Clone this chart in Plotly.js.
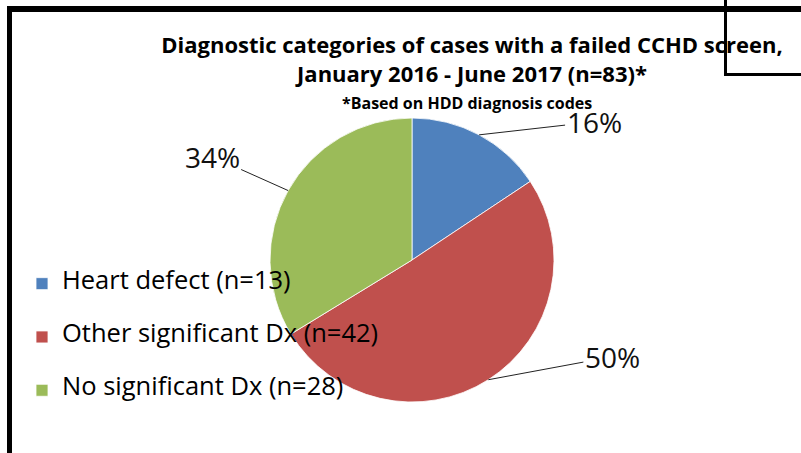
<!DOCTYPE html>
<html>
<head>
<meta charset="utf-8">
<script src="https://cdn.plot.ly/plotly-3.0.1.min.js"></script>
<style>html,body{margin:0;padding:0;background:#fff;}#chart{width:801px;height:453px;}</style>
</head>
<body>
<div id="chart"></div>
<script>
// ---- data ----
const categories = ['Heart defect (n=13)', 'Other significant Dx (n=42)', 'No significant Dx (n=28)'];
const counts = [13, 42, 28];
const pctLabels = ['16%', '50%', '34%'];
const colors = ['#4F81BD', '#C0504D', '#9BBB59'];

// ---- layout geometry (pixels) ----
const W = 801, H = 453;
const cx = 412, cy = 260, R = 142;
const labelOffsets = [[115, -13], [124, -23], [-76, -34]];
const px = x => x / W;
const py = y => 1 - y / H;
const FONT = '"Open Sans", sans-serif';

const total = counts.reduce((a, b) => a + b, 0);
let cum = 0;
const annotations = counts.map((v, i) => {
  const mid = (cum + v / 2) / total;
  cum += v;
  const th = mid * 2 * Math.PI;
  const ex = cx + R * Math.sin(th), ey = cy - R * Math.cos(th);
  return {
    x: px(ex), y: py(ey), xref: 'paper', yref: 'paper',
    text: pctLabels[i], showarrow: true, arrowhead: 0, arrowwidth: 1, arrowcolor: '#222',
    ax: labelOffsets[i][0], ay: labelOffsets[i][1], standoff: 0,
    font: {family: FONT, size: 28, color: '#111'}
  };
});
annotations.push({
  x: px(467), y: py(90), xref: 'paper', yref: 'paper', showarrow: false,
  text: '<b>*Based on HDD diagnosis codes</b>',
  font: {family: FONT, size: 16, color: '#000'}
});

const legendLabels = categories.map(c => ' <br><span style="font-size:25.5px">' + c + '</span><br> ');

const trace = {
  type: 'pie',
  labels: legendLabels,
  values: counts,
  sort: false,
  direction: 'clockwise',
  rotation: 0,
  textinfo: 'none',
  hoverinfo: 'none',
  marker: {colors: colors, line: {color: '#ffffff', width: 0.8}},
  domain: {x: [px(cx - R), px(cx + R)], y: [py(cy + R), py(cy - R)]}
};

const layout = {
  width: W, height: H,
  margin: {l: 0, r: 0, t: 0, b: 0},
  paper_bgcolor: '#fff',
  title: {
    text: '<b>Diagnostic categories of cases with a failed CCHD screen,<br>January 2016 - June 2017 (n=83)*</b>',
    font: {family: FONT, size: 22, color: '#000'},
    x: px(472), xanchor: 'center', y: 1 - 53 / H, yanchor: 'top', yref: 'container'
  },
  showlegend: true,
  legend: {
    x: px(22), xanchor: 'left', y: py(252), yanchor: 'top',
    bgcolor: 'rgba(0,0,0,0)', font: {family: FONT, size: 12.9, color: '#000'},
    traceorder: 'normal'
  },
  annotations: annotations,
  shapes: [
    {type: 'line', xref: 'paper', yref: 'paper', x0: px(9.5), x1: px(9.5), y0: py(6), y1: py(H), line: {color: '#000', width: 5}},
    {type: 'line', xref: 'paper', yref: 'paper', x0: px(7), x1: px(W), y0: py(9), y1: py(9), line: {color: '#000', width: 6}},
    {type: 'line', xref: 'paper', yref: 'paper', x0: px(725.5), x1: px(725.5), y0: py(0), y1: py(76), line: {color: '#000', width: 3}},
    {type: 'line', xref: 'paper', yref: 'paper', x0: px(724), x1: px(W), y0: py(74.5), y1: py(74.5), line: {color: '#000', width: 3}}
  ]
};

Plotly.newPlot('chart', [trace], layout, {displayModeBar: false, staticPlot: true});
</script>
</body>
</html>
